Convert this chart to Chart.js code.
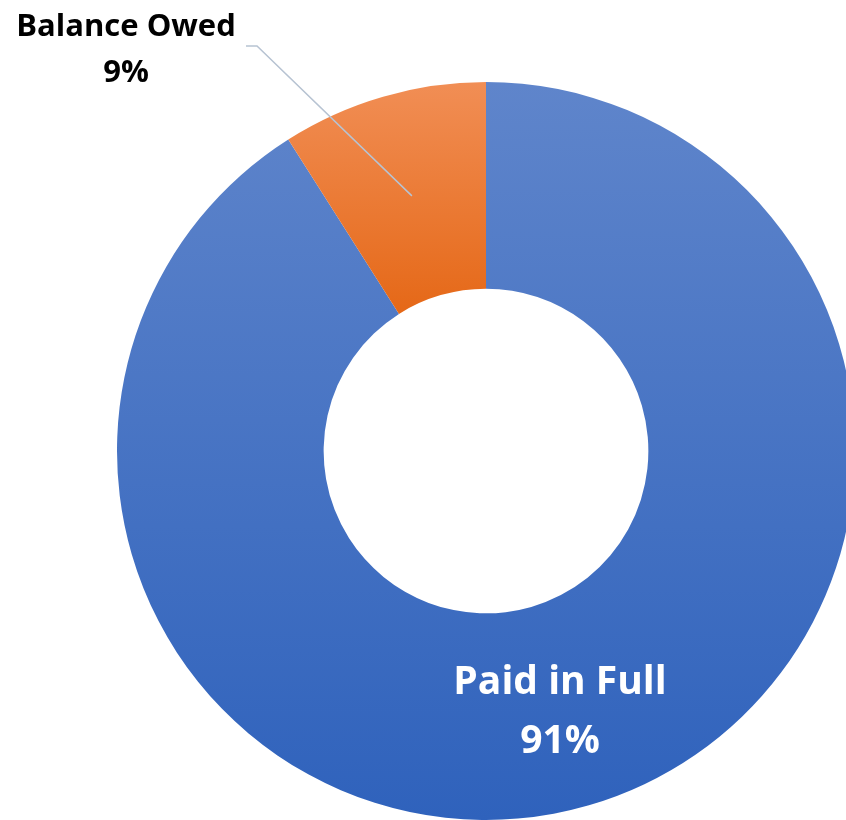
<!DOCTYPE html>
<html>
<head>
<meta charset="utf-8">
<script src="https://cdn.jsdelivr.net/npm/chart.js@4.4.0/dist/chart.umd.min.js"></script>
<style>
  html, body { margin: 0; padding: 0; background: #fff; overflow: hidden; }
  #wrap { position: absolute; left: 0; top: 0; width: 900px; height: 900px; }
</style>
</head>
<body>
<div id="wrap"><canvas id="chartPaid" width="900" height="900"></canvas></div>
<script>
// data
const categories = ["Paid in Full", "Balance Owed"];
const percentValues = [91, 9];

// per-slice gradient colors (top -> bottom)
const topColors = ["#5F85CB", "#F18E55"];
const bottomColors = ["#2F62BC", "#E56817"];
const cutoutRatio = 0.44;

function sliceGradient(c) {
  const chart = c.chart;
  const area = chart.chartArea;
  if (!area) return topColors[c.dataIndex];
  let y0 = area.top, y1 = area.bottom;
  if (c.dataIndex === 1) {
    // orange slice: gradient over its own height (top edge -> inner corner)
    const cy = (area.top + area.bottom) / 2;
    const inner = Math.min(area.width, area.height) / 2 * cutoutRatio;
    const total = percentValues.reduce((a, b) => a + b, 0);
    const a = -Math.PI / 2 + 2 * Math.PI * percentValues[0] / total;
    y1 = cy + Math.sin(a) * inner;
  }
  const g = chart.ctx.createLinearGradient(0, y0, 0, y1);
  g.addColorStop(0, topColors[c.dataIndex]);
  g.addColorStop(1, bottomColors[c.dataIndex]);
  return g;
}

// labels + leader line
const labelPlugin = {
  id: "sliceLabels",
  afterDatasetsDraw(chart) {
    const ctx = chart.ctx;
    const arcs = chart.getDatasetMeta(0).data;
    const cx = arcs[0].x, cy = arcs[0].y;
    ctx.save();
    ctx.textAlign = "center";
    ctx.textBaseline = "alphabetic";

    // Paid in Full (inside, white)
    ctx.fillStyle = "#ffffff";
    ctx.font = "bold 39px 'Open Sans', sans-serif";
    ctx.fillText(categories[0], cx + 74, cy + 243);
    ctx.fillText(percentValues[0] + "%", cx + 74, cy + 302);

    // Balance Owed (outside, black) with leader line
    const p = arcs[1].tooltipPosition();
    ctx.strokeStyle = "#B7C3D2";
    ctx.lineWidth = 1.5;
    ctx.beginPath();
    ctx.moveTo(p.x, p.y);
    ctx.lineTo(257, 46);
    ctx.lineTo(246, 46);
    ctx.stroke();

    ctx.fillStyle = "#000000";
    ctx.font = "bold 31px 'Open Sans', sans-serif";
    ctx.fillText(categories[1], 126, 36);
    ctx.fillText(percentValues[1] + "%", 126, 82);
    ctx.restore();
  }
};

new Chart(document.getElementById("chartPaid"), {
  type: "doughnut",
  data: {
    labels: categories,
    datasets: [{
      data: percentValues,
      backgroundColor: sliceGradient,
      borderWidth: 0
    }]
  },
  options: {
    responsive: false,
    animation: false,
    cutout: (cutoutRatio * 100) + "%",
    layout: { padding: { left: 117, top: 82, right: 45, bottom: 80 } },
    plugins: {
      legend: { display: false },
      tooltip: { enabled: false }
    }
  },
  plugins: [labelPlugin]
});
</script>
</body>
</html>
